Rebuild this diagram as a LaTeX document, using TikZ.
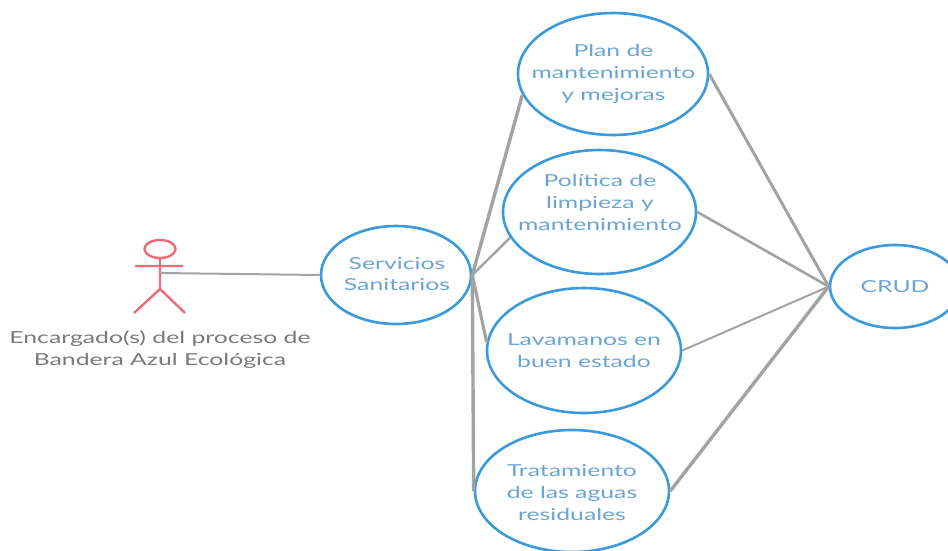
\documentclass[tikz,border=0pt]{standalone}
\usepackage{fontspec}
\setmainfont{Lato}
\usetikzlibrary{shapes.geometric}
\definecolor{ucblue}{HTML}{3A9ADB}
\definecolor{txtblue}{HTML}{6AA5D6}
\definecolor{linegray}{HTML}{A3A3A3}
\definecolor{actorred}{HTML}{EE6B78}
\definecolor{txtgray}{HTML}{7A7A7A}
\newcommand{\wide}[1]{\scalebox{1.5}[1]{#1}}
\tikzset{
  uc/.style={ellipse,draw=ucblue,line width=2.6pt,fill=none,inner sep=0pt},
  uclabel/.style={text=txtblue,font=\fontsize{16.5}{21.8}\selectfont,align=center,inner sep=0pt},
  actorlabel/.style={text=txtgray,font=\fontsize{16.5}{21.8}\selectfont,align=center,inner sep=0pt},
  actorline/.style={draw=actorred,line width=2.4pt},
  conn/.style={draw=linegray},
}
\begin{document}
\begin{tikzpicture}[x=1pt,y=-1pt]
\useasboundingbox (0,0) rectangle (948,550);
\fill[white] (0,0) rectangle (948,550);
% nodes
\node[uc,minimum width=150pt,minimum height=98pt] (serv) at (396,275) {};
\node[uc,minimum width=190pt,minimum height=122pt] (plan) at (613,74) {};
\node[uc,minimum width=193pt,minimum height=124pt] (poli) at (599.5,212) {};
\node[uc,minimum width=194pt,minimum height=125pt] (lava) at (584,350.5) {};
\node[uc,minimum width=194pt,minimum height=122pt] (trat) at (572,491) {};
\node[uc,minimum width=130pt,minimum height=83pt] (crud) at (895,286.5) {};
% labels
\node[uclabel] (servt) at (397,274) {\wide{Servicios}\\\wide{Sanitarios}};
\node[uclabel] (plant) at (613.5,74) {\wide{Plan de}\\\wide{mantenimiento}\\\wide{y mejoras}};
\node[uclabel] (polit) at (600,202.5) {\wide{Política de}\\\wide{limpieza y}\\\wide{mantenimiento}};
\node[uclabel] (lavat) at (584,350.5) {\wide{Lavamanos en}\\\wide{buen estado}};
\node[uclabel] (tratt) at (572,492.5) {\wide{Tratamiento}\\\wide{de las aguas}\\\wide{residuales}};
\node[uclabel] (crudt) at (895,287) {\wide{CRUD}};
\node[actorlabel] (actort) at (160,349.5) {\wide{Encargado(s) del proceso de}\\\wide{Bandera Azul Ecológica}};
% actor
\coordinate (head) at (160,249);
\coordinate (neck) at (160,258);
\coordinate (hip) at (160,289);
\coordinate (armL) at (135,266);
\coordinate (armR) at (183,266);
\coordinate (footL) at (134,313);
\coordinate (footR) at (185,313);
\coordinate (actor) at (160,273);
\draw[actorline] (head) ellipse [x radius=15.5pt,y radius=9pt];
\draw[actorline] (neck) -- (hip) (armL) -- (armR) (footL) -- (hip) -- (footR);
% connectors
\draw[conn,line width=2pt] (actor) -- (serv.west);
\draw[conn,line width=3.4pt] (serv.east) -- (plan.193);
\draw[conn,line width=2.4pt] (serv.east) -- (poli.196);
\draw[conn,line width=3.2pt] (serv.east) -- (lava.175);
\draw[conn,line width=3.4pt] (serv.east) -- (trat.west);
\draw[conn,line width=3pt] (plan.east) -- (crud.west);
\draw[conn,line width=2.6pt] (poli.east) -- (crud.west);
\draw[conn,line width=2pt] (lava.east) -- (crud.west);
\draw[conn,line width=3.4pt] (trat.east) -- (crud.west);
\end{tikzpicture}
\end{document}
